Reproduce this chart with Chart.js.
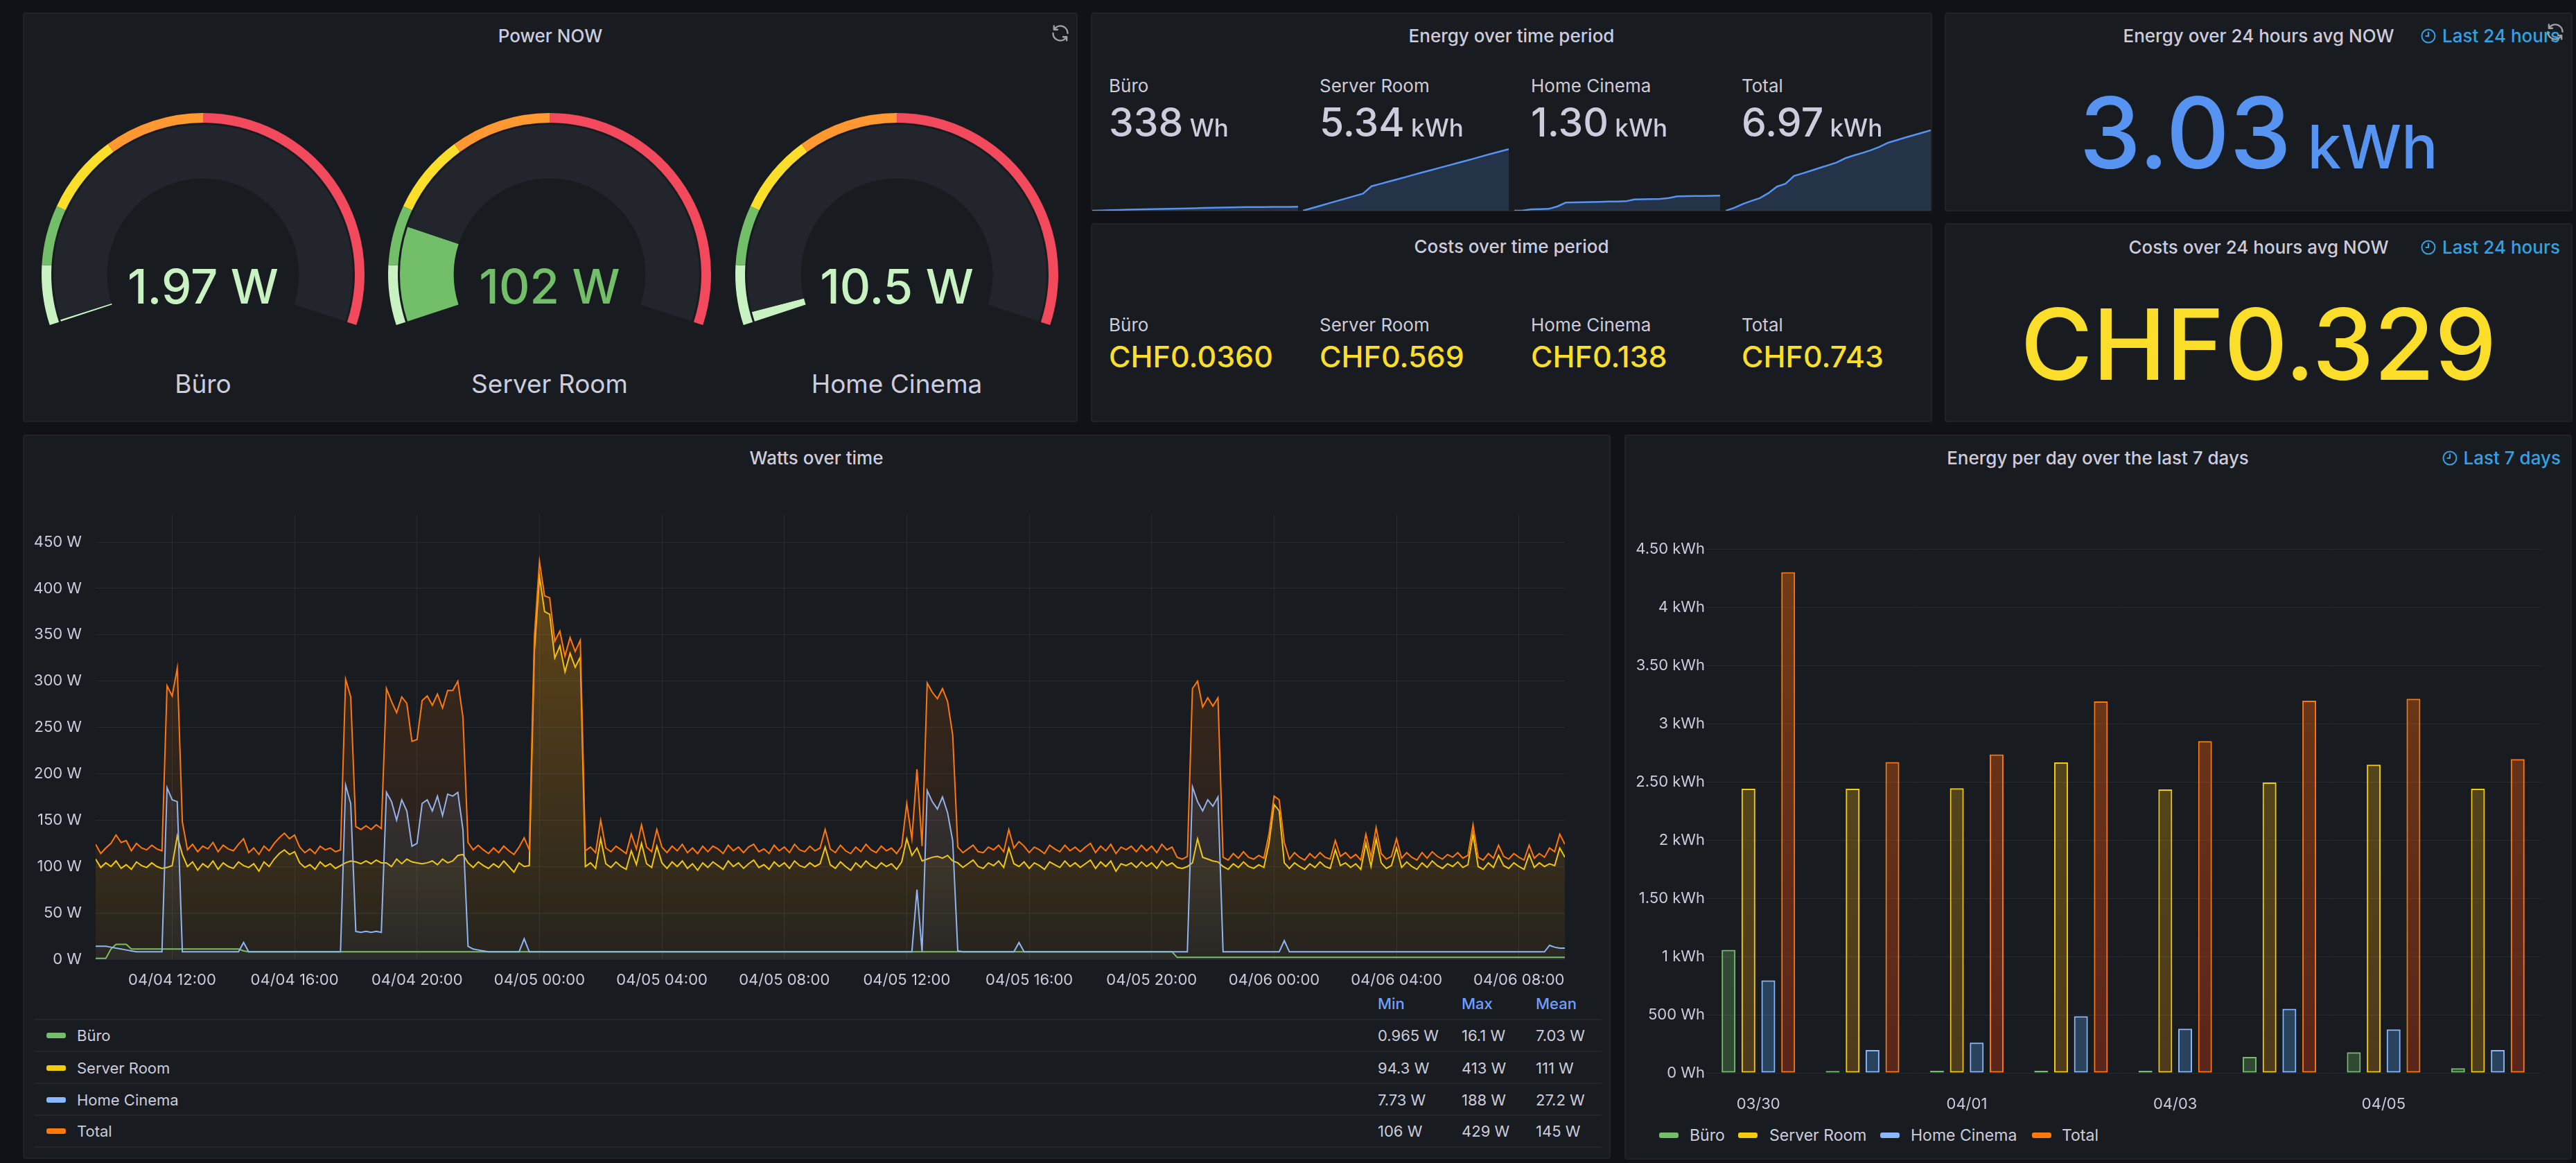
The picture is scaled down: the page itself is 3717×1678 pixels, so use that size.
<!DOCTYPE html>
<html>
<head>
<meta charset="utf-8">
<title>Energy dashboard</title>
<script src="https://cdn.jsdelivr.net/npm/chart.js@4.4.1/dist/chart.umd.min.js"></script>
<style>
  html, body { margin: 0; padding: 0; background: #111217; }
  body { width: 3717px; height: 1678px; position: relative; overflow: hidden;
         font-family: Inter, 'Noto Sans', sans-serif; color: #ccccdc; }
  .panel { position: absolute; background: #181b1f; border: 2px solid #202226;
           border-radius: 4px; box-sizing: border-box; }
  .txt { position: absolute; line-height: 1; white-space: nowrap; }
  canvas { position: absolute; }
  .sep { position: absolute; height: 2px; background: #22252b; }
  .swatch { position: absolute; width: 28px; height: 8px; border-radius: 3px; }
  .icon { position: absolute; }
</style>
</head>
<body>

<div class="panel" style="left:33px;top:18px;width:1522px;height:591px"></div>
<div class="panel" style="left:1574px;top:18px;width:1214px;height:287px"></div>
<div class="panel" style="left:1574px;top:322px;width:1214px;height:287px"></div>
<div class="panel" style="left:2806px;top:18px;width:906px;height:287px"></div>
<div class="panel" style="left:2806px;top:322px;width:906px;height:287px"></div>
<div class="panel" style="left:33px;top:627px;width:2291px;height:1045px"></div>
<div class="panel" style="left:2344px;top:627px;width:1367px;height:1046px"></div>

<canvas id="gauge0" width="500" height="400" style="left:43px;top:116px"></canvas>
<canvas id="gauge1" width="500" height="400" style="left:543px;top:116px"></canvas>
<canvas id="gauge2" width="500" height="400" style="left:1044px;top:116px"></canvas>

<canvas id="spark0" width="297" height="124" style="left:1576px;top:180px"></canvas>
<canvas id="spark1" width="297" height="124" style="left:1880px;top:180px"></canvas>
<canvas id="spark2" width="297" height="124" style="left:2185px;top:180px"></canvas>
<canvas id="spark3" width="296" height="124" style="left:2490px;top:180px"></canvas>

<canvas id="watts" width="2230" height="700" style="left:40px;top:728px"></canvas>
<canvas id="days" width="1340" height="880" style="left:2350px;top:740px"></canvas>

<script>
// ---- series / labels ----
const seriesNames = ['Büro', 'Server Room', 'Home Cinema', 'Total'];
const seriesColors = ['#73bf69', '#f2cc0c', '#8ab8ff', '#ff780a'];
const seriesRgb = ['115,191,105', '242,204,12', '138,184,255', '255,120,10'];

// gauges (Power NOW)
const gaugeValues = [1.97, 102, 10.5];
const gaugeTexts = ['1.97 W', '102 W', '10.5 W'];
const gaugeMax = 600;
const gaugeSteps = [0, 60, 120, 200, 300];
const gaugeStepColors = ['#c8f2c2', '#73bf69', '#fade2a', '#ff9830', '#f2495c'];

// energy / costs over time period
const periodEnergy = ['338', '5.34', '1.30', '6.97'];
const periodEnergyUnit = ['Wh', 'kWh', 'kWh', 'kWh'];
const periodCosts = ['CHF0.0360', 'CHF0.569', 'CHF0.138', 'CHF0.743'];
const avgEnergy = '3.03';
const avgEnergyUnit = 'kWh';
const avgCosts = 'CHF0.329';

// sparklines: cumulative kWh, hours since 04/04 09:30
const sparkHours = [0, 2, 4, 6, 8, 10, 12, 14, 16, 18, 20, 22, 24, 26, 28, 30, 32, 34, 36, 38, 40, 42, 44, 46, 48];
const sparkBuro = [0, 0.02, 0.044, 0.066, 0.083, 0.1, 0.116, 0.133, 0.15, 0.166, 0.183, 0.2, 0.216, 0.233, 0.25, 0.266, 0.283, 0.3, 0.312, 0.316, 0.32, 0.325, 0.329, 0.334, 0.338];
const sparkServer = [0, 0.21, 0.42, 0.64, 0.85, 1.06, 1.27, 1.48, 2.12, 2.32, 2.52, 2.72, 2.92, 3.13, 3.33, 3.53, 3.73, 3.93, 4.13, 4.33, 4.53, 4.74, 4.94, 5.14, 5.34];
const sparkCinema = [0, 0.02, 0.12, 0.14, 0.16, 0.36, 0.70, 0.72, 0.74, 0.75, 0.77, 0.79, 0.80, 0.82, 0.97, 0.99, 1.00, 1.02, 1.10, 1.24, 1.26, 1.27, 1.28, 1.29, 1.30];
const sparkTotal = [0, 0.25, 0.58, 0.85, 1.09, 1.52, 2.09, 2.33, 3.01, 3.24, 3.47, 3.71, 3.94, 4.18, 4.55, 4.79, 5.01, 5.25, 5.54, 5.89, 6.11, 6.34, 6.55, 6.76, 6.97];

// watts over time: one sample every 10 min from 04/04 09:30 to 04/06 09:30
const sampleStartHour = 9.5;   // hours since 04/04 00:00
const sampleStepMinutes = 10;

const wattsBuro = [
  1, 1, 1, 11, 16, 16,            // 04/04 09:30
  16, 11, 11, 11, 11, 11,         // 10:30
  11, 11, 11, 11, 11, 11,         // 11:30
  11, 11, 11, 11, 11, 11,         // 12:30
  11, 11, 11, 11, 11, 9,          // 13:30
  8, 8, 8, 8, 8, 8,               // 14:30
  8, 8, 8, 8, 8, 8,               // 15:30
  8, 8, 8, 8, 8, 8,               // 16:30
  8, 8, 8, 8, 8, 8,               // 17:30
  8, 8, 8, 8, 8, 8,               // 18:30
  8, 8, 8, 8, 8, 8,               // 19:30
  8, 8, 8, 8, 8, 8,               // 20:30
  8, 8, 8, 8, 8, 8,               // 21:30
  8, 8, 8, 8, 8, 8,               // 22:30
  8, 8, 8, 8, 8, 8,               // 23:30
  8, 8, 8, 8, 8, 8,               // 04/05 00:30
  8, 8, 8, 8, 8, 8,               // 01:30
  8, 8, 8, 8, 8, 8,               // 02:30
  8, 8, 8, 8, 8, 8,               // 03:30
  8, 8, 8, 8, 8, 8,               // 04:30
  8, 8, 8, 8, 8, 8,               // 05:30
  8, 8, 8, 8, 8, 8,               // 06:30
  8, 8, 8, 8, 8, 8,               // 07:30
  8, 8, 8, 8, 8, 8,               // 08:30
  8, 8, 8, 8, 8, 8,               // 09:30
  8, 8, 8, 8, 8, 8,               // 10:30
  8, 8, 8, 8, 8, 8,               // 11:30
  8, 8, 8, 8, 8, 8,               // 12:30
  8, 8, 8, 8, 8, 8,               // 13:30
  8, 8, 8, 8, 8, 8,               // 14:30
  8, 8, 8, 8, 8, 8,               // 15:30
  8, 8, 8, 8, 8, 8,               // 16:30
  8, 8, 8, 8, 8, 8,               // 17:30
  8, 8, 8, 8, 8, 8,               // 18:30
  8, 8, 8, 8, 8, 8,               // 19:30
  8, 8, 2, 2, 2, 2,               // 20:30
  2, 2, 2, 2, 2, 2,               // 21:30
  2, 2, 2, 2, 2, 2,               // 22:30
  2, 2, 2, 2, 2, 2,               // 23:30
  2, 2, 2, 2, 2, 2,               // 04/06 00:30
  2, 2, 2, 2, 2, 2,               // 01:30
  2, 2, 2, 2, 2, 2,               // 02:30
  2, 2, 2, 2, 2, 2,               // 03:30
  2, 2, 2, 2, 2, 2,               // 04:30
  2, 2, 2, 2, 2, 2,               // 05:30
  2, 2, 2, 2, 2, 2,               // 06:30
  2, 2, 2, 2, 2, 2,               // 07:30
  2, 2, 2, 2, 2, 2,               // 08:30
  2                               // 09:30
];

const wattsServer = [
  108, 99, 104, 100, 106, 98,     // 04/04 09:30
  102, 97, 105, 101, 99, 104,     // 10:30
  100, 98, 99, 101, 133, 113,     // 11:30
  100, 105, 96, 103, 99, 106,     // 12:30
  97, 104, 100, 98, 105, 101,     // 13:30
  99, 103, 95, 105, 100, 108,     // 14:30
  114, 118, 113, 116, 104, 99,    // 15:30
  102, 97, 105, 100, 103, 98,     // 16:30
  101, 104, 106, 105, 103, 106,   // 17:30
  103, 107, 104, 104, 100, 108,   // 18:30
  103, 108, 105, 104, 103, 104,   // 19:30
  106, 102, 108, 104, 106, 112,   // 20:30
  113, 104, 99, 105, 101, 98,     // 21:30
  103, 99, 106, 100, 94, 104,     // 22:30
  100, 101, 332, 413, 375, 372,   // 23:30
  325, 338, 310, 330, 315, 326,   // 04/05 00:30
  100, 104, 98, 130, 103, 99,     // 01:30
  105, 100, 97, 117, 102, 125,    // 02:30
  103, 99, 122, 104, 98, 105,     // 03:30
  100, 106, 98, 103, 96, 104,     // 04:30
  99, 105, 101, 97, 106, 100,     // 05:30
  104, 98, 103, 107, 99, 102,     // 06:30
  97, 105, 100, 104, 98, 106,     // 07:30
  101, 99, 104, 100, 103, 121,    // 08:30
  102, 98, 105, 100, 96, 104,     // 09:30
  99, 106, 101, 98, 104, 100,     // 10:30
  103, 97, 105, 130, 112, 120,    // 11:30
  106, 108, 110, 111, 109, 112,   // 12:30
  106, 104, 99, 103, 107, 100,    // 13:30
  98, 104, 101, 106, 99, 120,     // 14:30
  103, 100, 105, 98, 104, 101,    // 15:30
  97, 105, 102, 99, 106, 100,     // 16:30
  104, 99, 103, 107, 98, 105,     // 17:30
  100, 106, 95, 103, 101, 104,    // 18:30
  99, 105, 100, 104, 98, 106,     // 19:30
  101, 104, 99, 98, 100, 104,     // 20:30
  130, 110, 108, 106, 105, 100,   // 21:30
  97, 103, 99, 105, 100, 98,      // 22:30
  102, 99, 125, 167, 160, 104,    // 23:30
  98, 104, 100, 97, 103, 99,      // 04/06 00:30
  105, 100, 98, 118, 101, 104,    // 01:30
  99, 103, 97, 125, 100, 130,     // 02:30
  104, 98, 101, 120, 99, 105,     // 03:30
  100, 97, 104, 99, 106, 101,     // 04:30
  98, 103, 100, 105, 99, 102,     // 05:30
  135, 100, 97, 104, 99, 112,     // 06:30
  101, 98, 104, 100, 97, 113,     // 07:30
  99, 104, 100, 103, 101, 120,    // 08:30
  110                             // 09:30
];

const wattsCinema = [
  14, 14, 14, 13, 12, 11,         // 04/04 09:30
  10, 9, 8, 8, 8, 8,              // 10:30
  8, 8, 185, 172, 170, 8,         // 11:30
  8, 8, 8, 8, 8, 8,               // 12:30
  8, 8, 8, 8, 8, 18,              // 13:30
  8, 8, 8, 8, 8, 8,               // 14:30
  8, 8, 8, 8, 8, 8,               // 15:30
  8, 8, 8, 8, 8, 8,               // 16:30
  8, 188, 168, 30, 29, 30,        // 17:30
  29, 30, 29, 180, 170, 150,      // 18:30
  172, 160, 122, 125, 168, 172,   // 19:30
  160, 176, 155, 178, 176, 180,   // 20:30
  140, 14, 11, 10, 9, 8,          // 21:30
  8, 8, 8, 8, 8, 8,               // 22:30
  22, 8, 8, 8, 8, 8,              // 23:30
  8, 8, 8, 8, 8, 8,               // 04/05 00:30
  8, 8, 8, 8, 8, 8,               // 01:30
  8, 8, 8, 8, 8, 8,               // 02:30
  8, 8, 8, 8, 8, 8,               // 03:30
  8, 8, 8, 8, 8, 8,               // 04:30
  8, 8, 8, 8, 8, 8,               // 05:30
  8, 8, 8, 8, 8, 8,               // 06:30
  8, 8, 8, 8, 8, 8,               // 07:30
  8, 8, 8, 8, 8, 8,               // 08:30
  8, 8, 8, 8, 8, 8,               // 09:30
  8, 8, 8, 8, 8, 8,               // 10:30
  8, 8, 8, 8, 8, 75,              // 11:30
  8, 182, 170, 162, 175, 158,     // 12:30
  128, 9, 8, 8, 8, 8,             // 13:30
  8, 8, 8, 8, 8, 8,               // 14:30
  8, 18, 8, 8, 8, 8,              // 15:30
  8, 8, 8, 8, 8, 8,               // 16:30
  8, 8, 8, 8, 8, 8,               // 17:30
  8, 8, 8, 8, 8, 8,               // 18:30
  8, 8, 8, 8, 8, 8,               // 19:30
  8, 8, 8, 8, 8, 186,             // 20:30
  170, 160, 172, 165, 175, 8,     // 21:30
  8, 8, 8, 8, 8, 8,               // 22:30
  8, 8, 8, 8, 8, 20,              // 23:30
  8, 8, 8, 8, 8, 8,               // 04/06 00:30
  8, 8, 8, 8, 8, 8,               // 01:30
  8, 8, 8, 8, 8, 8,               // 02:30
  8, 8, 8, 8, 8, 8,               // 03:30
  8, 8, 8, 8, 8, 8,               // 04:30
  8, 8, 8, 8, 8, 8,               // 05:30
  8, 8, 8, 8, 8, 8,               // 06:30
  8, 8, 8, 8, 8, 8,               // 07:30
  8, 8, 8, 15, 13, 12,            // 08:30
  12                              // 09:30
];

const wattsTotal = [
  124, 114, 120, 125, 134, 126,   // 04/04 09:30
  128, 117, 125, 120, 118, 123,   // 10:30
  119, 117, 295, 284, 314, 148,   // 11:30
  118, 124, 116, 122, 119, 126,   // 12:30
  116, 123, 119, 117, 124, 130,   // 13:30
  115, 120, 113, 122, 117, 125,   // 14:30
  131, 136, 130, 134, 121, 115,   // 15:30
  119, 114, 122, 118, 120, 116,   // 16:30
  118, 302, 283, 143, 140, 144,   // 17:30
  140, 145, 141, 292, 278, 266,   // 18:30
  283, 276, 235, 237, 279, 284,   // 19:30
  274, 286, 271, 290, 290, 300,   // 20:30
  261, 126, 118, 123, 118, 114,   // 21:30
  120, 115, 122, 117, 113, 121,   // 22:30
  131, 118, 348, 429, 392, 390,   // 23:30
  343, 354, 327, 347, 332, 344,   // 04/05 00:30
  117, 121, 115, 150, 120, 116,   // 01:30
  122, 118, 114, 135, 119, 145,   // 02:30
  121, 116, 140, 121, 115, 122,   // 03:30
  117, 124, 115, 120, 114, 122,   // 04:30
  116, 122, 119, 114, 123, 117,   // 05:30
  121, 115, 121, 124, 116, 119,   // 06:30
  114, 123, 117, 121, 115, 124,   // 07:30
  118, 116, 122, 117, 120, 140,   // 08:30
  119, 115, 123, 117, 114, 121,   // 09:30
  116, 124, 118, 115, 122, 117,   // 10:30
  120, 114, 122, 168, 130, 205,   // 11:30
  122, 298, 288, 281, 292, 278,   // 12:30
  242, 121, 115, 119, 123, 116,   // 13:30
  115, 121, 118, 123, 116, 140,   // 14:30
  120, 127, 122, 115, 121, 118,   // 15:30
  114, 123, 119, 116, 123, 117,   // 16:30
  121, 116, 121, 125, 115, 122,   // 17:30
  117, 124, 114, 121, 118, 122,   // 18:30
  116, 123, 117, 122, 115, 124,   // 19:30
  118, 121, 110, 108, 111, 292,   // 20:30
  300, 272, 282, 273, 282, 110,   // 21:30
  107, 114, 109, 116, 110, 108,   // 22:30
  112, 109, 135, 176, 172, 126,   // 23:30
  108, 115, 110, 107, 114, 109,   // 04/06 00:30
  115, 110, 108, 128, 111, 115,   // 01:30
  109, 113, 107, 135, 110, 142,   // 02:30
  114, 108, 111, 130, 109, 115,   // 03:30
  110, 107, 115, 109, 116, 111,   // 04:30
  108, 113, 110, 115, 109, 112,   // 05:30
  145, 110, 107, 114, 109, 123,   // 06:30
  111, 108, 114, 110, 107, 123,   // 07:30
  109, 114, 110, 120, 116, 135,   // 08:30
  124                             // 09:30
];

const wattTickHours = [12, 16, 20, 24, 28, 32, 36, 40, 44, 48, 52, 56];
const wattTickLabels = ['04/04 12:00', '04/04 16:00', '04/04 20:00', '04/05 00:00', '04/05 04:00', '04/05 08:00',
                        '04/05 12:00', '04/05 16:00', '04/05 20:00', '04/06 00:00', '04/06 04:00', '04/06 08:00'];
const wattTickValues = [0, 50, 100, 150, 200, 250, 300, 350, 400, 450];

const legendMin = ['0.965 W', '94.3 W', '7.73 W', '106 W'];
const legendMax = ['16.1 W', '413 W', '188 W', '429 W'];
const legendMean = ['7.03 W', '111 W', '27.2 W', '145 W'];

// energy per day, kWh
const dayLabels = ['03/30', '03/31', '04/01', '04/02', '04/03', '04/04', '04/05', '04/06'];
const dayBuro = [1.056, 0.016, 0.018, 0.018, 0.018, 0.137, 0.177, 0.04];
const dayServer = [2.44, 2.44, 2.445, 2.667, 2.434, 2.494, 2.647, 2.44];
const dayCinema = [0.795, 0.197, 0.26, 0.486, 0.38, 0.55, 0.373, 0.197];
const dayTotal = [4.30, 2.67, 2.735, 3.19, 2.85, 3.197, 3.213, 2.695];
const dayTickLabels = ['0 Wh', '500 Wh', '1 kWh', '1.50 kWh', '2 kWh', '2.50 kWh', '3 kWh', '3.50 kWh', '4 kWh', '4.50 kWh'];

// ---- helpers ----
Chart.defaults.font.family = "Inter, 'Noto Sans', sans-serif";
Chart.defaults.color = '#ccccdc';
const gridColor = 'rgba(204,204,220,0.09)';
const textColor = '#ccccdc';
const linkColor = '#33a2e5';
const noTick = 'rgba(0,0,0,0)';

// text centred on (x, y) at its cap height
function addText(text, x, y, size, opts = {}) {
    const el = document.createElement('div');
    el.className = 'txt';
    el.textContent = text;
    el.style.left = x + 'px';
    el.style.top = y + 'px';
    el.style.fontSize = size + 'px';
    el.style.color = opts.color || textColor;
    el.style.fontWeight = opts.weight || 400;
    const tx = opts.align === 'left' ? '0' : (opts.align === 'right' ? '-100%' : '-50%');
    el.style.transform = `translate(${tx}, -50%)`;
    document.body.appendChild(el);
    return el;
}

// value + unit sitting on a baseline
function addValue(value, unit, x, baseline, size, unitSize, color, align) {
    const el = document.createElement('div');
    el.className = 'txt';
    el.style.fontSize = size + 'px';
    el.style.fontWeight = 500;
    el.style.color = color;
    el.style.left = x + 'px';
    el.style.top = (baseline - 0.863 * size) + 'px';
    if (align === 'center') el.style.transform = 'translateX(-50%)';
    const v = document.createElement('span');
    v.textContent = value;
    el.appendChild(v);
    if (unit) {
        const u = document.createElement('span');
        u.textContent = ' ' + unit;
        u.style.fontSize = unitSize + 'px';
        el.appendChild(u);
    }
    document.body.appendChild(el);
}

const refreshSvg = '<svg width="28" height="28" viewBox="0 0 24 24"><path fill="#9fa1a8" d="M19.91 15.51h-4.53a1 1 0 0 0 0 2h2.4A8 8 0 0 1 4 12a1 1 0 0 0-2 0 10 10 0 0 0 16.88 7.23V21a1 1 0 0 0 2 0v-4.5a1 1 0 0 0-.97-.99zM12 2a10 10 0 0 0-6.88 2.77V3a1 1 0 0 0-2 0v4.5a1 1 0 0 0 1 1h4.5a1 1 0 0 0 0-2h-2.4A8 8 0 0 1 20 12a1 1 0 0 0 2 0A10 10 0 0 0 12 2z"/></svg>';
const clockSvg = '<svg width="24" height="24" viewBox="0 0 24 24"><circle cx="12" cy="12" r="9.5" fill="none" stroke="' + linkColor + '" stroke-width="2"/><path d="M12 6.5V12H8.5" fill="none" stroke="' + linkColor + '" stroke-width="2" stroke-linecap="round"/></svg>';

function addIcon(svg, x, y) {
    const el = document.createElement('div');
    el.className = 'icon';
    el.innerHTML = svg;
    el.style.left = x + 'px';
    el.style.top = y + 'px';
    el.style.transform = 'translate(-50%, -50%)';
    el.style.lineHeight = 0;
    document.body.appendChild(el);
}

function addTimeInfo(text, rightX, y) {
    const el = addText(text, rightX, y, 26, { color: linkColor, weight: 500, align: 'right' });
    const w = el.getBoundingClientRect().width;
    addIcon(clockSvg, rightX - w - 20, y);
}

function fade(rgb, topAlpha, bottomAlpha) {
    return (context) => {
        const chart = context.chart;
        const area = chart.chartArea;
        if (!area) return `rgba(${rgb},${topAlpha})`;
        const g = chart.ctx.createLinearGradient(0, area.top, 0, area.bottom);
        g.addColorStop(0, `rgba(${rgb},${topAlpha})`);
        g.addColorStop(1, `rgba(${rgb},${bottomAlpha})`);
        return g;
    };
}

function gradient2(top, bottom) {
    return (context) => {
        const chart = context.chart;
        const area = chart.chartArea;
        if (!area) return top;
        const g = chart.ctx.createLinearGradient(0, area.top, 0, area.bottom);
        g.addColorStop(0, top);
        g.addColorStop(1, bottom);
        return g;
    };
}

// nudge layout padding until the plot area sits where the panel wants it
function pinPlotArea(chart, pad, top, right) {
    for (let k = 0; k < 4; k++) {
        const a = chart.chartArea;
        const dTop = top - a.top;
        const dRight = a.right - right;
        if (Math.abs(dTop) < 0.5 && Math.abs(dRight) < 0.5) return;
        pad.top += dTop;
        pad.right += dRight;
        chart.update();
    }
}

// ---- panel titles ----
addText('Power NOW', 794, 52, 26, { weight: 500 });
addText('Energy over time period', 2181, 52, 26, { weight: 500 });
addText('Costs over time period', 2181, 356, 26, { weight: 500 });
addText('Energy over 24 hours avg NOW', 3259, 52, 26, { weight: 500 });
addText('Costs over 24 hours avg NOW', 3259, 357, 26, { weight: 500 });
addText('Watts over time', 1178, 661, 26, { weight: 500 });
addText('Energy per day over the last 7 days', 3027, 661, 26, { weight: 500 });
addTimeInfo('Last 24 hours', 3694, 52);
addTimeInfo('Last 24 hours', 3694, 357);
addTimeInfo('Last 7 days', 3695, 661);
addIcon(refreshSvg, 1530, 48);
addIcon(refreshSvg, 3687, 46);

// ---- gauges ----
function stepColor(value) {
    let c = gaugeStepColors[0];
    gaugeSteps.forEach((s, i) => { if (value >= s) c = gaugeStepColors[i]; });
    return c;
}

const gaugeCentersX = [293, 793, 1294];
gaugeValues.forEach((value, i) => {
    const bands = gaugeSteps.map((s, k) => (k + 1 < gaugeSteps.length ? gaugeSteps[k + 1] : gaugeMax) - s);
    const color = stepColor(value);
    new Chart(document.getElementById('gauge' + i), {
        type: 'doughnut',
        data: {
            datasets: [
                { data: bands, backgroundColor: gaugeStepColors, borderWidth: 0, weight: 14 },
                { data: [1], backgroundColor: ['rgba(0,0,0,0)'], borderWidth: 0, weight: 3 },
                { data: [value, gaugeMax - value], backgroundColor: [color, '#22252b'], borderWidth: 0, weight: 77.6 }
            ]
        },
        options: {
            responsive: false,
            animation: false,
            events: [],
            rotation: -108.3,
            circumference: 216.6,
            cutout: '59.4%',
            radius: 233,
            plugins: { legend: { display: false }, tooltip: { enabled: false } }
        }
    });
    addText(gaugeTexts[i], gaugeCentersX[i], 413, 69, { color: color, weight: 500 });
    addText(seriesNames[i], gaugeCentersX[i], 553, 37);
});

// ---- energy / costs stat panels ----
const statColumnsX = [1600, 1904, 2209, 2513];
const sparkSeries = [sparkBuro, sparkServer, sparkCinema, sparkTotal];
statColumnsX.forEach((x, i) => {
    addText(seriesNames[i], x, 124, 26, { align: 'left' });
    addValue(periodEnergy[i], periodEnergyUnit[i], x, 197, 57, 35, textColor, 'left');
    addText(seriesNames[i], x, 468.5, 26, { align: 'left' });
    addValue(periodCosts[i], '', x, 530, 43, 0, '#fade2a', 'left');

    new Chart(document.getElementById('spark' + i), {
        type: 'line',
        data: {
            labels: sparkHours,
            datasets: [{
                data: sparkSeries[i],
                borderColor: '#5794f2',
                borderWidth: 2.5,
                pointRadius: 0,
                fill: 'origin',
                backgroundColor: 'rgba(87,148,242,0.2)'
            }]
        },
        options: {
            responsive: false,
            animation: false,
            events: [],
            layout: { padding: 0 },
            plugins: { legend: { display: false }, tooltip: { enabled: false } },
            scales: {
                x: { type: 'linear', min: 0, max: 48, display: false },
                y: { min: 0, max: 7.45, display: false }
            }
        }
    });
});

addValue(avgEnergy, avgEnergyUnit, 3259, 243, 142, 87, '#5794f2', 'center');
addValue(avgCosts, '', 3259, 548, 142, 0, '#fade2a', 'center');

// ---- watts over time ----
const sampleHours = wattsTotal.map((_, i) => sampleStartHour + i * sampleStepMinutes / 60);
const wattSeries = [wattsBuro, wattsServer, wattsCinema, wattsTotal];
const wattsPad = { top: 14, right: 12, left: 0, bottom: 0 };

const wattsChart = new Chart(document.getElementById('watts'), {
    type: 'line',
    data: {
        labels: sampleHours,
        datasets: wattSeries.map((s, i) => ({
            label: seriesNames[i],
            data: s,
            borderColor: seriesColors[i],
            borderWidth: 2,
            pointRadius: 0,
            tension: 0,
            fill: 'origin',
            backgroundColor: fade(seriesRgb[i], 0.2, 0.03),
            order: 3 - i
        }))
    },
    options: {
        responsive: false,
        animation: false,
        events: [],
        layout: { padding: wattsPad },
        plugins: { legend: { display: false }, tooltip: { enabled: false } },
        scales: {
            x: {
                type: 'linear',
                min: 9.5,
                max: 57.5,
                afterBuildTicks: (scale) => { scale.ticks = wattTickHours.map(v => ({ value: v })); },
                afterFit: (scale) => { scale.height = 44; },
                ticks: {
                    callback: (v) => wattTickLabels[wattTickHours.indexOf(v)],
                    autoSkip: false, maxRotation: 0, padding: 0,
                    font: { size: 22 }, color: textColor
                },
                grid: { color: gridColor, drawTicks: true, tickLength: 17, tickColor: noTick },
                border: { display: false }
            },
            y: {
                min: 0,
                max: 480,
                ticks: {
                    stepSize: 50,
                    callback: (v) => v + ' W',
                    padding: 0,
                    font: { size: 22 }, color: textColor
                },
                afterBuildTicks: (scale) => { scale.ticks = wattTickValues.map(v => ({ value: v })); },
                afterFit: (scale) => { scale.width = 98; },
                grid: { color: gridColor, drawTicks: true, tickLength: 20, tickColor: noTick },
                border: { display: false }
            }
        }
    }
});
// plot area: page y 742 (480 W) .. 1384 (0 W), x 138 .. 2258
pinPlotArea(wattsChart, wattsPad, 742 - 728, 2258 - 40);

// legend table under the time series
addText('Min', 1988, 1448, 22, { color: '#6e9fff', weight: 500, align: 'left' });
addText('Max', 2109, 1448, 22, { color: '#6e9fff', weight: 500, align: 'left' });
addText('Mean', 2216, 1448, 22, { color: '#6e9fff', weight: 500, align: 'left' });
[1470.6, 1516.6, 1562.6, 1608.6, 1654.6].forEach(y => {
    const s = document.createElement('div');
    s.className = 'sep';
    s.style.left = '50px';
    s.style.width = '2261px';
    s.style.top = (y - 1) + 'px';
    document.body.appendChild(s);
});
const legendRowsY = [1494, 1540.6, 1586.7, 1632];
legendRowsY.forEach((y, i) => {
    const sw = document.createElement('div');
    sw.className = 'swatch';
    sw.style.left = '67px';
    sw.style.top = (y - 4) + 'px';
    sw.style.background = seriesColors[i];
    document.body.appendChild(sw);
    addText(seriesNames[i], 111, y, 22, { align: 'left' });
    addText(legendMin[i], 1988, y, 22, { align: 'left' });
    addText(legendMax[i], 2109, y, 22, { align: 'left' });
    addText(legendMean[i], 2216, y, 22, { align: 'left' });
});

// ---- energy per day ----
const barFills = [
    gradient2('rgba(115,191,105,0.32)', 'rgba(115,191,105,0.28)'),
    gradient2('rgba(242,204,12,0.29)', 'rgba(235,150,20,0.26)'),
    gradient2('rgba(80,160,230,0.34)', 'rgba(80,150,220,0.32)'),
    gradient2('rgba(255,120,10,0.38)', 'rgba(230,60,20,0.32)')
];
const daySeries = [dayBuro, dayServer, dayCinema, dayTotal];
const daysPad = { top: 52, right: 25, left: 0, bottom: 0 };

const daysChart = new Chart(document.getElementById('days'), {
    type: 'bar',
    data: {
        labels: dayLabels,
        datasets: daySeries.map((s, i) => ({
            label: seriesNames[i],
            data: s,
            borderColor: seriesColors[i],
            borderWidth: 2,
            borderSkipped: false,
            backgroundColor: barFills[i],
            categoryPercentage: 0.763,
            barPercentage: 0.697
        }))
    },
    options: {
        responsive: false,
        animation: false,
        events: [],
        layout: { padding: daysPad },
        plugins: { legend: { display: false }, tooltip: { enabled: false } },
        scales: {
            x: {
                afterFit: (scale) => { scale.height = 72; },
                ticks: {
                    callback: (v, i) => (i % 2 === 0 ? dayLabels[i] : ''),
                    autoSkip: false, maxRotation: 0, padding: 32,
                    font: { size: 22 }, color: textColor
                },
                grid: { display: false, drawTicks: false },
                border: { display: false }
            },
            y: {
                min: 0,
                max: 4.5,
                ticks: {
                    stepSize: 0.5,
                    callback: (v, i) => dayTickLabels[i],
                    padding: 2,
                    font: { size: 22 }, color: textColor
                },
                afterFit: (scale) => { scale.width = 112; },
                grid: { color: gridColor, drawTicks: false },
                border: { display: false }
            }
        }
    }
});
// plot area: page y 792 (4.5 kWh) .. 1548 (0), x 2462 .. 3665
pinPlotArea(daysChart, daysPad, 792 - 740, 3665 - 2350);

const barLegendSwatchX = [2394, 2508, 2713, 2932];
const barLegendTextX = [2438, 2553, 2757, 2975];
seriesNames.forEach((name, i) => {
    const sw = document.createElement('div');
    sw.className = 'swatch';
    sw.style.left = barLegendSwatchX[i] + 'px';
    sw.style.top = (1638 - 4) + 'px';
    sw.style.background = seriesColors[i];
    document.body.appendChild(sw);
    addText(name, barLegendTextX[i], 1638, 23, { align: 'left' });
});
</script>
</body>
</html>
